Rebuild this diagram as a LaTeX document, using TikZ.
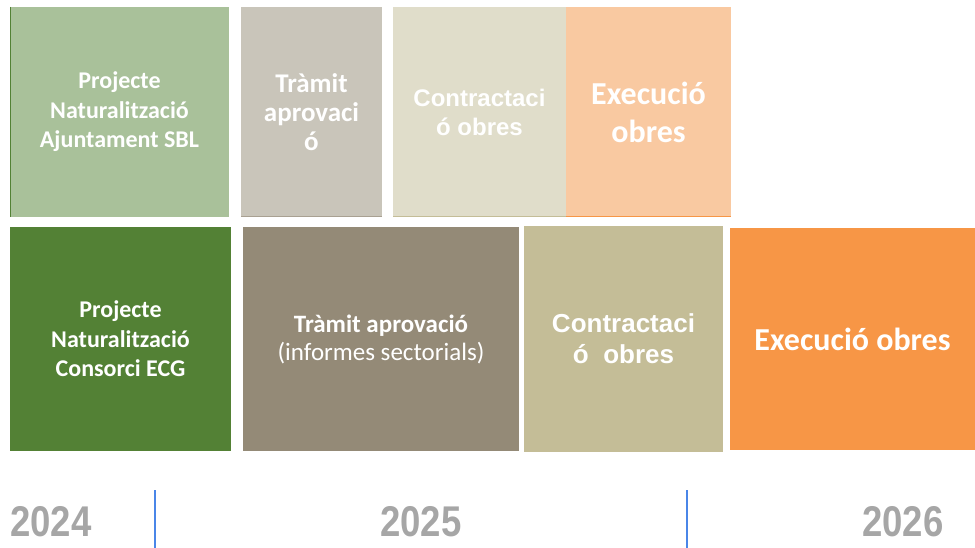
\documentclass[tikz,border=0pt]{standalone}
\usepackage{fontspec}
\setmainfont{Carlito}
\newfontfamily\arialfont{Liberation Sans}
\usepackage{tikz}
\usetikzlibrary{positioning}
\usepackage{xcolor}
\definecolor{lgreen}{RGB}{169,193,154}
\definecolor{lgray}{RGB}{201,197,186}
\definecolor{lbeige}{RGB}{224,221,202}
\definecolor{lorange}{RGB}{249,201,161}
\definecolor{dgreen}{RGB}{83,129,53}
\definecolor{dgray}{RGB}{148,138,119}
\definecolor{dkhaki}{RGB}{196,189,151}
\definecolor{dorange}{RGB}{247,150,70}
\definecolor{yeargray}{RGB}{166,166,166}
\definecolor{myblue}{RGB}{74,134,232}

\begin{document}
\begin{tikzpicture}[x=1pt,y=-1pt,inner sep=0pt,outer sep=0pt]
  \tikzstyle{phase}=[draw=none,text=white,align=center,font=\bfseries\fontsize{24}{29.5}\selectfont]
  \tikzstyle{year}=[text=yeargray,font=\arialfont\bfseries\fontsize{43}{43}\selectfont]
  \useasboundingbox (0,0) rectangle (975,548);

  % first row
  \node[phase, fill=lgreen, minimum width=219pt, minimum height=210pt] (A) at (119.5,112) {Projecte\\Naturalització\\Ajuntament SBL};
  \node[phase, fill=lgray, minimum width=141pt, minimum height=209pt, font=\bfseries\fontsize{27}{29}\selectfont] (B) [right=12pt of A] {Tràmit\\aprovaci\\ó};
  \node[phase, fill=lbeige, minimum width=173pt, minimum height=209pt, font=\arialfont\bfseries\fontsize{24}{29}\selectfont] (C) [right=11pt of B] {Contractaci\\ó obres};
  \node[phase, fill=lorange, minimum width=165pt, minimum height=209pt, font=\bfseries\fontsize{32}{38}\selectfont] (D) [right=0pt of C] {Execució\\obres};

  % second row
  \node[phase, fill=dgreen, minimum width=221pt, minimum height=224pt] (E) at (120.5,339) {Projecte\\Naturalització\\Consorci ECG};
  \node[phase, fill=dgray, minimum width=276pt, minimum height=223pt, font=\bfseries\fontsize{25}{28}\selectfont] (F) [right=12pt of E] {Tràmit aprovació\\\mdseries (informes sectorials)};
  \node[phase, fill=dkhaki, minimum width=199pt, minimum height=225pt, font=\arialfont\bfseries\fontsize{26}{31}\selectfont] (G) [right=5pt of F] {Contractaci\\ó\ \ obres};
  \node[phase, fill=dorange, minimum width=245pt, minimum height=222pt, font=\bfseries\fontsize{32}{38}\selectfont] (H) [right=7pt of G] {Execució obres};

  % thin edges of the first row
  \draw[dgreen, line width=1pt] (A.north west) -- (A.south west);
  \draw[dgray!80, line width=1pt] (B.south west) -- (B.south east);
  \draw[dkhaki, line width=1.5pt] (C.south west) -- (C.south east);
  \draw[dorange, line width=1.5pt] (D.south west) -- (D.south east);

  % years
  \node[year] (y24) at (51,522) {\scalebox{0.85}[1]{2024}};
  \node[year] (y25) at (421,522) {\scalebox{0.85}[1]{2025}};
  \node[year] (y26) at (903,522) {\scalebox{0.85}[1]{2026}};
  \coordinate (t1) at (155,490);
  \coordinate (t2) at (687,490);
  \draw[myblue, line width=1.5pt] (t1) -- (t1 |- 0,548);
  \draw[myblue, line width=1.5pt] (t2) -- (t2 |- 0,548);
\end{tikzpicture}
\end{document}
